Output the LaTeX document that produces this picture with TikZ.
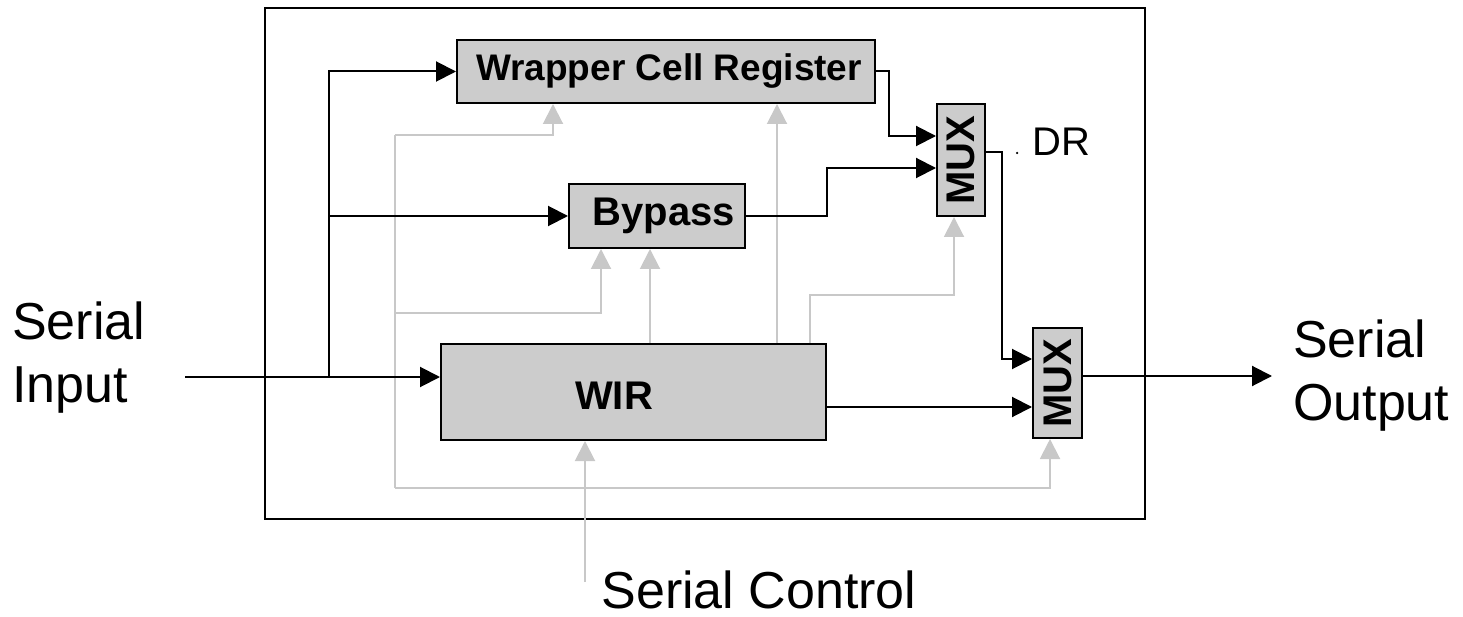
\documentclass[tikz,border=0pt]{standalone}
\usepackage{fontspec}
\setmainfont{Liberation Sans}
\usetikzlibrary{arrows.meta,calc}
\definecolor{boxfill}{HTML}{CCCCCC}
\definecolor{ctlgray}{HTML}{C8C8C8}
\begin{document}
\begin{tikzpicture}[x=1pt,y=-1pt,
  blk/.style={draw=black,line width=2pt,fill=boxfill,inner sep=0pt,font=\bfseries\fontsize{40}{44}\selectfont},
  darr/.style={draw=black,line width=2pt,-{Triangle[length=20pt,width=20pt]}},
  garr/.style={draw=ctlgray,line width=2pt,-{Triangle[length=20pt,width=20pt]}},
  gline/.style={draw=ctlgray,line width=2pt},
  big/.style={font=\fontsize{52}{63}\selectfont,inner sep=0pt,align=left}]
\useasboundingbox (0,0) rectangle (1463,617);
% outer frame
\node[draw=black,line width=2pt,minimum width=880pt,minimum height=511pt,inner sep=0pt] (frame) at (705,263.5) {};
% blocks
\node[blk,minimum width=418pt,minimum height=63pt,font=\bfseries\fontsize{37}{40}\selectfont] (wcr) at (666,71.5) {\hspace*{6pt}Wrapper Cell Register};
\node[blk,minimum width=176pt,minimum height=64pt] (byp) at (657,216) {\hspace*{14pt}Bypass};
\node[blk,minimum width=385pt,minimum height=96pt] (wir) at (633.5,392) {};
\node[font=\bfseries\fontsize{40}{44}\selectfont,inner sep=0pt] (wirtxt) at (614,396) {WIR};
\node[blk,minimum width=48pt,minimum height=112pt] (mux1) at (961,160) {};
\node[font=\bfseries\fontsize{40}{44}\selectfont,inner sep=0pt,rotate=90] (mux1txt) at (mux1.center) {MUX};
\node[blk,minimum width=49pt,minimum height=110pt] (mux2) at (1057.5,383) {};
\node[font=\bfseries\fontsize{40}{44}\selectfont,inner sep=0pt,rotate=90] (mux2txt) at (mux2.center) {MUX};
% outside texts
\node[big,anchor=west] (sin) at (12,358) {Serial\\Input};
\node[big,anchor=west] (sout) at (1293,376) {Serial\\Output};
\node[font=\fontsize{52}{63}\selectfont,inner sep=0pt] (sctl) at (759,590) {Serial Control};
\node[font=\fontsize{40}{44}\selectfont,inner sep=0pt,anchor=west] (dr) at (1032,142) {DR};
\node[circle,fill=black,inner sep=0pt,minimum size=2.5pt] (drdot) at (1017,153) {};
% coordinates
\coordinate (in) at (185,377);
\coordinate (br) at (329,377);
\coordinate (out) at (1272,376);
\coordinate (ctl) at (585,582);
\coordinate (g1) at (395,135);
\coordinate (g2) at (395,313);
\coordinate (gl) at (395,488);
% gray control lines
\draw[garr] (ctl) -- (wir.south -| 585,0);
\draw[gline] (g1) -- (gl);
\draw[garr] (gl) -| (mux2.south -| 1050,0);
\draw[garr] (g1) -| (wcr.south -| 553,0);
\draw[garr] (g2) -| (byp.south -| 601,0);
\draw[garr] (wir.north -| 650,0) -- (byp.south -| 650,0);
\draw[garr] (wir.north -| 777,0) -- (wcr.south -| 777,0);
\draw[garr] (wir.north -| 810,0) -- ++(0,-48) -| (mux1.south -| 954,0);
% black data lines
\draw[darr] (in) -- (in -| wir.west);
\draw[darr] (br) |- (wcr.west);
\draw[darr] (br |- byp.west) -- (byp.west);
\draw[darr] (wcr.east) -- ++(13,0) |- (mux1.west |- 0,136);
\draw[darr] (byp.east) -- ++(81,0) |- (mux1.west |- 0,168);
\draw[darr] (mux1.east |- 0,152) -- ++(16,0) |- (mux2.west |- 0,359);
\draw[darr] (wir.east |- 0,407) -- (mux2.west |- 0,407);
\draw[darr] (mux2.east |- 0,376) -- (out);
\end{tikzpicture}
\end{document}
